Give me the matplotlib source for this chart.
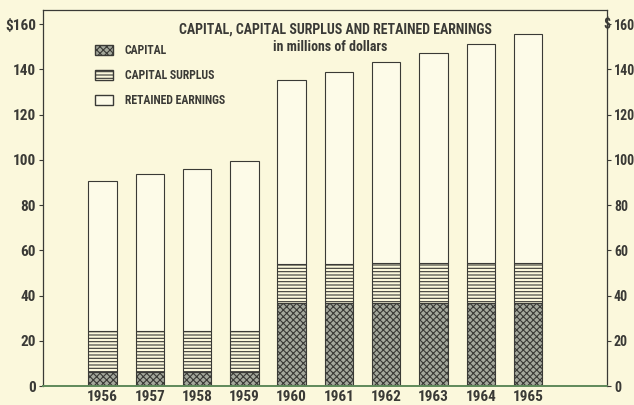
import matplotlib
matplotlib.use("Agg")
import matplotlib.pyplot as plt
from matplotlib import font_manager
from matplotlib.patches import Patch

# 数据(百万美元)
years = ["1956", "1957", "1958", "1959", "1960", "1961", "1962", "1963", "1964", "1965"]
capital = [6, 6, 6, 6, 36.5, 36.5, 36.5, 36.5, 36.5, 36.5]
surplus = [18.5, 18.5, 18.5, 18.5, 17.5, 17.5, 17.8, 17.8, 17.8, 17.8]
total = [90.5, 93.7, 95.9, 99.3, 135.2, 138.8, 143.2, 147.4, 151.0, 155.4]
retained = [t - c - s for t, c, s in zip(total, capital, surplus)]
yticks = [0, 20, 40, 60, 80, 100, 120, 140, 160]
ylabels = ["0", "20", "40", "60", "80", "100", "120", "140", "$160"]
ylabels_r = ["0", "20", "40", "60", "80", "100", "120", "140", "160"]

BG = "#fbf8dc"
INK = "#3a3a36"
GREEN = "#5f8a5a"
CAPFC = "#a4a89c"

# 窄体字: 有就用, 没有就缩小字号
have = {f.name for f in font_manager.fontManager.ttflist}
NARROW = None
for n in ["Liberation Sans Narrow", "DejaVu Sans Condensed", "Roboto Condensed", "Open Sans Condensed"]:
    if n in have:
        NARROW = n
        break
if NARROW:
    FAM, K = [NARROW, "DejaVu Sans"], 1.0
else:
    FAM, K = ["DejaVu Sans"], 0.8
plt.rcParams["font.family"] = FAM
plt.rcParams["hatch.linewidth"] = 0.8
FK = dict(fontweight="bold", color=INK)

fig = plt.figure(figsize=(6.34, 4.05), dpi=100, facecolor=BG)
ax = fig.add_axes([43 / 634, 19 / 405, 564 / 634, 376 / 405], facecolor=BG)
x = range(len(years))
w = 0.6
ax.bar(x, capital, w, facecolor=CAPFC, edgecolor=INK, hatch="xxxxx", linewidth=0.8)
ax.bar(x, surplus, w, bottom=capital, facecolor=BG, edgecolor=INK, hatch="-----", linewidth=0.8)
bot2 = [c + s for c, s in zip(capital, surplus)]
ax.bar(x, retained, w, bottom=bot2, facecolor="#fdfbe8", edgecolor=INK, linewidth=0.8)

ax.set_xlim(-1.26, 10.67)
ax.set_ylim(0, 166.2)
ax.set_yticks(yticks)
ax.set_yticklabels(ylabels, **FK, fontsize=11 * K)
ax.set_xticks(list(x))
ax.set_xticklabels(years, **FK, fontsize=11 * K)
ax.tick_params(axis="x", length=0, pad=3)
ax.tick_params(axis="y", length=3, width=0.8, color=INK, pad=2)
for s in ["left", "top", "right"]:
    ax.spines[s].set_color(INK)
    ax.spines[s].set_linewidth(0.9)
ax.spines["bottom"].set_color(GREEN)
ax.spines["bottom"].set_linewidth(1.4)

ax2 = ax.twinx()
ax2.set_ylim(0, 166.2)
ax2.set_yticks(yticks)
ax2.set_yticklabels(ylabels_r, **FK, fontsize=10 * K)
ax2.tick_params(axis="y", length=3, width=0.8, color=INK, pad=2)
for s in ax2.spines.values():
    s.set_visible(False)
# 右侧 $ 号(原图压在轴线上)
ax2.text(1.0, 160, "$", transform=ax2.get_yaxis_transform(), ha="center", va="center",
         fontsize=10 * K, **FK)

ax.text(0.519, 0.947, "CAPITAL, CAPITAL SURPLUS AND RETAINED EARNINGS", transform=ax.transAxes,
        ha="center", va="center", fontsize=10 * K, **FK)
ax.text(0.51, 0.902, "in millions of dollars", transform=ax.transAxes,
        ha="center", va="center", fontsize=10 * K, **FK)

handles = [Patch(facecolor=CAPFC, edgecolor=INK, hatch="xxxxx", label="CAPITAL"),
           Patch(facecolor=BG, edgecolor=INK, hatch="-----", label="CAPITAL SURPLUS"),
           Patch(facecolor="#fdfbe8", edgecolor=INK, label="RETAINED EARNINGS")]
lg = ax.legend(handles=handles, loc="upper left", bbox_to_anchor=(0.074, 0.937), frameon=False,
               handlelength=1.5, handleheight=0.9, labelspacing=1.0, handletextpad=1.0,
               prop=dict(family=FAM, weight="bold", size=8.5 * K))
for t in lg.get_texts():
    t.set_color(INK)

fig.savefig("out.png", dpi=100, facecolor=BG)
